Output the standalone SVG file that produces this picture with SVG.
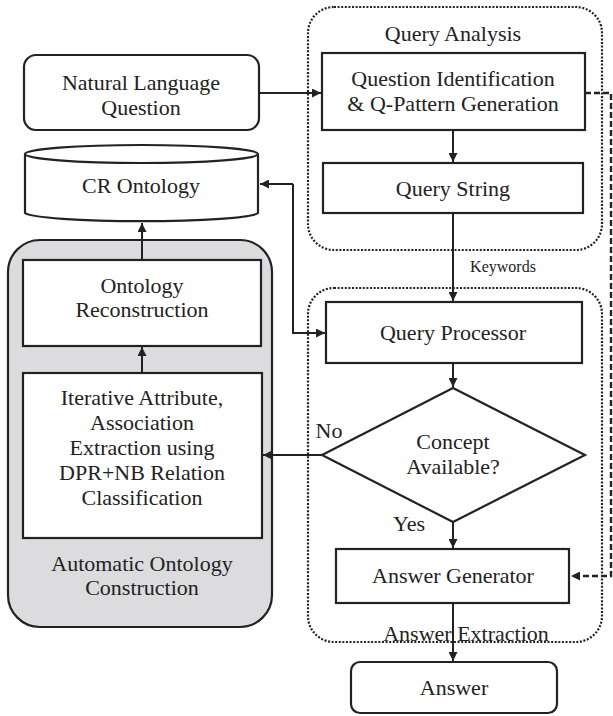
<svg xmlns="http://www.w3.org/2000/svg" width="613" height="716" viewBox="0 0 613 716">
<style>
.t{font-family:"Liberation Serif","Times New Roman",serif;font-size:22px;fill:#222;text-anchor:middle;dominant-baseline:central}
.s{font-size:16px}
.box{fill:#fff;stroke:#222;stroke-width:2.2}
.dot{fill:none;stroke:#222;stroke-width:2.2;stroke-dasharray:2 1.6}
.ln{fill:none;stroke:#222;stroke-width:2}
.dash{fill:none;stroke:#222;stroke-width:2.4;stroke-dasharray:6 3}
</style>
<defs>
<marker id="ah" viewBox="0 0 10 10" refX="10" refY="5" markerWidth="9" markerHeight="9" markerUnits="userSpaceOnUse" orient="auto">
<path d="M0,0 L10,5 L0,10 z" fill="#222"/>
</marker>
</defs>
<rect width="613" height="716" fill="#fff"/>
<g id="query-analysis">
<rect class="dot" x="308" y="7" width="294" height="243" rx="26"/>
<text class="t" x="453" y="33">Query Analysis</text>
</g>
<g id="answer-extraction">
<rect class="dot" x="308" y="288" width="294" height="354" rx="26"/>
</g>
<g id="automatic-ontology-construction">
<rect x="8" y="240" width="264" height="387" rx="32" fill="#dcdcde" stroke="#222" stroke-width="2.2"/>
<text class="t" x="142" y="563">Automatic Ontology</text>
<text class="t" x="142" y="587">Construction</text>
</g>
<g id="natural-language-question">
<rect class="box" x="24" y="55" width="235" height="75" rx="12"/>
<text class="t" x="141" y="82">Natural Language</text>
<text class="t" x="141" y="107">Question</text>
</g>
<g id="question-identification">
<rect class="box" x="322" y="53" width="263" height="77"/>
<text class="t" x="453" y="78">Question Identification</text>
<text class="t" x="453" y="103">&amp; Q-Pattern Generation</text>
</g>
<g id="cr-ontology">
<path class="box" d="M25,154 L25,213 A117,9 0 0 0 258,213 L258,154"/>
<ellipse class="box" cx="141.5" cy="154" rx="116.5" ry="9"/>
<text class="t" x="141" y="185">CR Ontology</text>
</g>
<g id="query-string">
<rect class="box" x="323" y="163" width="260" height="50"/>
<text class="t" x="453" y="188">Query String</text>
</g>
<g id="ontology-reconstruction">
<rect class="box" x="23" y="260" width="238" height="86"/>
<text class="t" x="142" y="285">Ontology</text>
<text class="t" x="142" y="309">Reconstruction</text>
</g>
<g id="iterative-extraction">
<rect class="box" x="23" y="373" width="239" height="165"/>
<text class="t" x="142" y="397">Iterative Attribute,</text>
<text class="t" x="142" y="422">Association</text>
<text class="t" x="142" y="447">Extraction using</text>
<text class="t" x="142" y="472">DPR+NB Relation</text>
<text class="t" x="142" y="497">Classification</text>
</g>
<g id="query-processor">
<rect class="box" x="326" y="302" width="256" height="61"/>
<text class="t" x="453" y="332">Query Processor</text>
</g>
<g id="concept-available">
<polygon class="box" points="453,388 585,455 453,522 322,455"/>
<text class="t" x="453" y="441">Concept</text>
<text class="t" x="453" y="466">Available?</text>
</g>
<g id="answer-generator">
<rect class="box" x="336" y="549" width="233" height="54"/>
<text class="t" x="453" y="575">Answer Generator</text>
</g>
<g id="answer">
<rect class="box" x="351" y="662" width="206" height="51" rx="9"/>
<text class="t" x="454" y="687">Answer</text>
</g>
<g id="connectors">
<line class="ln" x1="259" y1="93" x2="321" y2="93" marker-end="url(#ah)"/>
<line class="ln" x1="453" y1="130" x2="453" y2="162" marker-end="url(#ah)"/>
<line class="ln" x1="453" y1="213" x2="453" y2="301" marker-end="url(#ah)"/>
<text class="t s" x="503" y="266">Keywords</text>
<line class="ln" x1="453" y1="363" x2="453" y2="387" marker-end="url(#ah)"/>
<line class="ln" x1="453" y1="522" x2="453" y2="548" marker-end="url(#ah)"/>
<line class="ln" x1="453" y1="603" x2="453" y2="661" marker-end="url(#ah)"/>
<line class="ln" x1="322" y1="455" x2="263" y2="455" marker-end="url(#ah)"/>
<text class="t" x="329" y="430">No</text>
<text class="t" x="409" y="523">Yes</text>
<text class="t" x="466" y="633">Answer  Extraction</text>
<line class="ln" x1="142" y1="260" x2="142" y2="223" marker-end="url(#ah)"/>
<line class="ln" x1="142" y1="373" x2="142" y2="347" marker-end="url(#ah)"/>
<path class="ln" d="M293,184 L293,333"/>
<line class="ln" x1="293" y1="184" x2="260" y2="184" marker-end="url(#ah)"/>
<line class="ln" x1="292" y1="333" x2="325" y2="333" marker-end="url(#ah)"/>
<path class="dash" d="M585,93 L611,93 L611,576 L571,576" marker-end="url(#ah)"/>
</g>
</svg>
